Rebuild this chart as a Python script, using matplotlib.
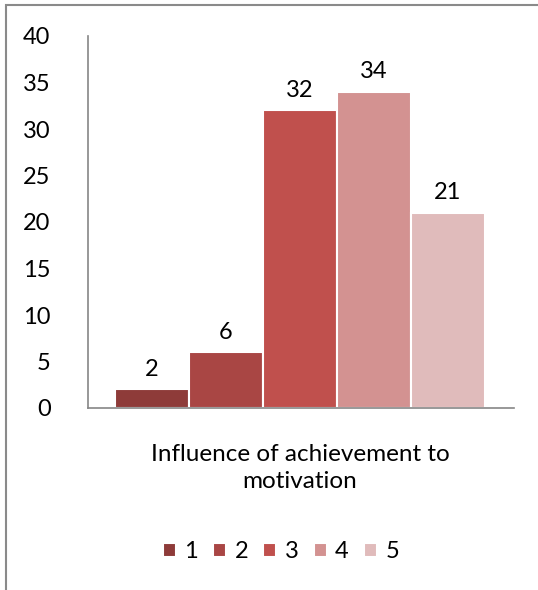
import matplotlib.pyplot as plt
from matplotlib.patches import Rectangle

categories = ["1", "2", "3", "4", "5"]
values = [2, 6, 32, 34, 21]
colors = ["#8E3B39", "#A94644", "#C0504D", "#D39291", "#E0BBBB"]
xlabel = "Influence of achievement to\nmotivation"

plt.rcParams['font.family'] = ['Lato', 'DejaVu Sans']

W, H = 538, 590
fig = plt.figure(figsize=(W / 100, H / 100), dpi=100)

# outer chart frame (cropped at right and bottom in the reference)
fig.patches.append(Rectangle((6 / W, -0.1), 1.2, 1 - 5 / H + 0.1, transform=fig.transFigure,
                             fill=False, edgecolor="#8a8a8a", lw=1.5))

ax = fig.add_axes([88 / W, 1 - 408 / H, (514 - 88) / W, (408 - 36) / H])

bw = 74
x0 = 115 - 88
for i, (c, v) in enumerate(zip(categories, values)):
    left = x0 + i * bw
    ax.bar(left, v, width=bw, align="edge", color=colors[i], edgecolor="white", lw=1.5, label=c)
    ax.text(left + bw / 2, v + 1.0, str(v), ha="center", va="bottom", fontsize=17)

ax.set_xlim(0, 514 - 88)
ax.set_ylim(0, 40)
ax.set_yticks(range(0, 41, 5))
ax.tick_params(axis="y", length=0, labelsize=17, pad=27)
ax.set_xticks([])
for s in ["top", "right"]:
    ax.spines[s].set_visible(False)
for s in ["left", "bottom"]:
    ax.spines[s].set_color("#868686")
    ax.spines[s].set_linewidth(1.2)

fig.text(300 / W, 1 - 468 / H, xlabel, ha="center", va="center", fontsize=17.5, linespacing=1.4)

fig.legend(loc="center", bbox_to_anchor=(281 / W, 1 - 552 / H), ncol=5, frameon=False,
           fontsize=17, handlelength=0.55, handleheight=0.55, handletextpad=0.35, columnspacing=0.65)

fig.savefig("out.png", dpi=100)
